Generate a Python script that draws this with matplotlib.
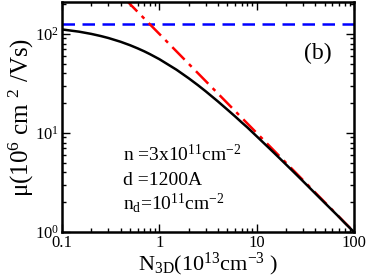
import matplotlib
matplotlib.use("Agg")
import matplotlib.pyplot as plt
from matplotlib.ticker import LogLocator, FixedLocator, FixedFormatter, NullFormatter

plt.rcParams['font.family'] = ['Liberation Serif', 'DejaVu Serif']
plt.rcParams['mathtext.fontset'] = 'custom'
plt.rcParams['mathtext.rm'] = 'Liberation Serif'
plt.rcParams['mathtext.it'] = 'Liberation Serif:italic'

# data
n3d = [0.1, 0.15, 0.2, 0.25, 0.3, 0.4, 0.5, 0.6, 0.7, 0.8, 1, 1.5, 2, 2.5, 3, 4, 5,
       6, 7, 8, 10, 15, 20, 25, 30, 40, 50, 60, 70, 80, 100]
mu_total = [111, 105.3, 100, 95.2, 90.9, 83.3, 76.9, 71.4, 66.7, 62.5, 55.6, 43.5,
            35.7, 30.3, 26.3, 20.8, 17.2, 14.7, 12.8, 11.4, 9.26, 6.33, 4.81, 3.88,
            3.25, 2.45, 1.97, 1.65, 1.42, 1.24, 1.0]
n_bg = [0.1, 100]
mu_bg = [125, 125]
n_imp = [0.4, 100]
mu_imp = [250, 1.0]
xticks = [0.1, 1, 10, 100]
xticklabels = ['0.1', '1', '10', '100']
yticks = [1, 10, 100]
yticklabels = ['$10^0$', '$10^1$', '$10^2$']

fig = plt.figure(figsize=(3.69, 2.77), dpi=100)
ax = fig.add_axes([62/369, 1-232/277, (354-62)/369, (232-2)/277])

ax.plot(n_bg, mu_bg, color='#0000ff', lw=1.8, dashes=(5, 3))
ax.plot(n_imp, mu_imp, color='#ff0000', lw=1.8, dashes=(7, 2.5, 1.5, 2.5))
ax.plot(n3d, mu_total, color='black', lw=1.8)

ax.set_xscale('log')
ax.set_yscale('log')
ax.set_xlim(0.1, 100)
ax.set_ylim(1, 210)

ax.xaxis.set_major_locator(FixedLocator(xticks))
ax.xaxis.set_major_formatter(FixedFormatter(xticklabels))
ax.yaxis.set_major_locator(FixedLocator(yticks))
ax.yaxis.set_major_formatter(FixedFormatter(yticklabels))
ax.xaxis.set_minor_locator(LogLocator(base=10, subs=range(2, 10)))
ax.yaxis.set_minor_locator(LogLocator(base=10, subs=range(2, 10)))
ax.xaxis.set_minor_formatter(NullFormatter())
ax.yaxis.set_minor_formatter(NullFormatter())

ax.tick_params(which='both', direction='in', top=True, right=True, labelsize=12, width=1)
ax.tick_params(which='major', length=6, pad=2)
ax.tick_params(which='minor', length=3)
for s in ax.spines.values():
    s.set_linewidth(1.8)

ax.set_xlabel('N$_{\\mathrm{3D}}$(10$^{13}$cm$^{-3}$ )', fontsize=16, labelpad=0)
ax.set_ylabel('μ(10$^6$ cm $^2$ /Vs)', fontsize=18, labelpad=-1)

def ax_xy(px, py):
    return ((px - 62) / 292, (232 - py) / 230)

ax.text(*ax_xy(318, 53), '(b)', transform=ax.transAxes, fontsize=17, ha='center', va='center')
kw = dict(transform=ax.transAxes, fontsize=14, ha='left', va='baseline')
ax.text(*ax_xy(123, 161), 'n =3x10$^{11}$cm$^{-2}$', **kw)
ax.text(*ax_xy(123, 185), 'd =1200A', **kw)
ax.text(*ax_xy(123, 209), 'n$_\\mathrm{d}$=10$^{11}$cm$^{-2}$', **kw)

fig.savefig('out.png', dpi=100)
